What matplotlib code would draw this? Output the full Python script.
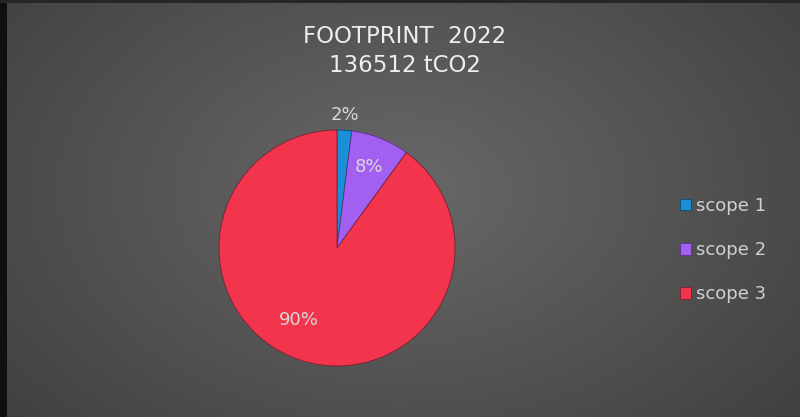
import numpy as np
import matplotlib
matplotlib.use("Agg")
import matplotlib.pyplot as plt

# dados do grafico
categorias = ["scope 1", "scope 2", "scope 3"]
valores = [2, 8, 90]
rotulos = ["2%", "8%", "90%"]
cores = ["#1b8fd6", "#a35ff0", "#f2344c"]
titulo = "FOOTPRINT  2022\n136512 tCO2"

plt.rcParams['font.family'] = ['DejaVu Sans']

fig = plt.figure(figsize=(8, 4.17), dpi=100)

# fundo com gradiente radial
fundo = fig.add_axes([0, 0, 1, 1])
yy, xx = np.mgrid[0:417, 0:800]
d = np.sqrt(((xx - 400) / 560.0) ** 2 + ((yy - 190) / 380.0) ** 2)
g = np.clip(0.41 - 0.17 * d, 0, 1)
img = np.dstack([g, g, g])
img[:, :7] = 0.06
img[:3, :] = 0.15
fundo.imshow(img, aspect='auto', extent=[0, 1, 0, 1], origin='upper')
fundo.set_axis_off()

# pizza
ax = fig.add_axes([(337 - 125) / 800, (417 - 248 - 125) / 417, 250 / 800, 250 / 417])
fatias, textos = ax.pie(valores, colors=cores, startangle=90, counterclock=False,
                        radius=118 / 125,
                        wedgeprops=dict(edgecolor="#7a2030", linewidth=0.6))
fatias[0].set_edgecolor("#0d4d78")
fatias[1].set_edgecolor("#5a3090")
ax.set_xlim(-1, 1)
ax.set_ylim(-1, 1)
ax.set_aspect('auto')

# rotulos de percentagem
dists = [1.127, 0.74, 0.69]
for i, w in enumerate(fatias):
    ang = np.deg2rad((w.theta1 + w.theta2) / 2)
    r = 118 / 125 * dists[i]
    if i == 2:
        ang = np.deg2rad(-118)
    ax.text(r * np.cos(ang), r * np.sin(ang), rotulos[i], ha='center', va='center',
            color="#d8d8d8", fontsize=13)

# legenda
fig.legend(fatias, categorias, loc='center left', bbox_to_anchor=(0.83, 0.40),
           frameon=False, fontsize=13, labelcolor="#d0d0d0", handlelength=0.6,
           handleheight=0.6, handletextpad=0.3, labelspacing=1.45)

fig.text(0.506, 0.877, titulo, ha='center', va='center', color="#eeeeee",
         fontsize=16.5, linespacing=1.35)

fig.savefig("out.png", dpi=100)
